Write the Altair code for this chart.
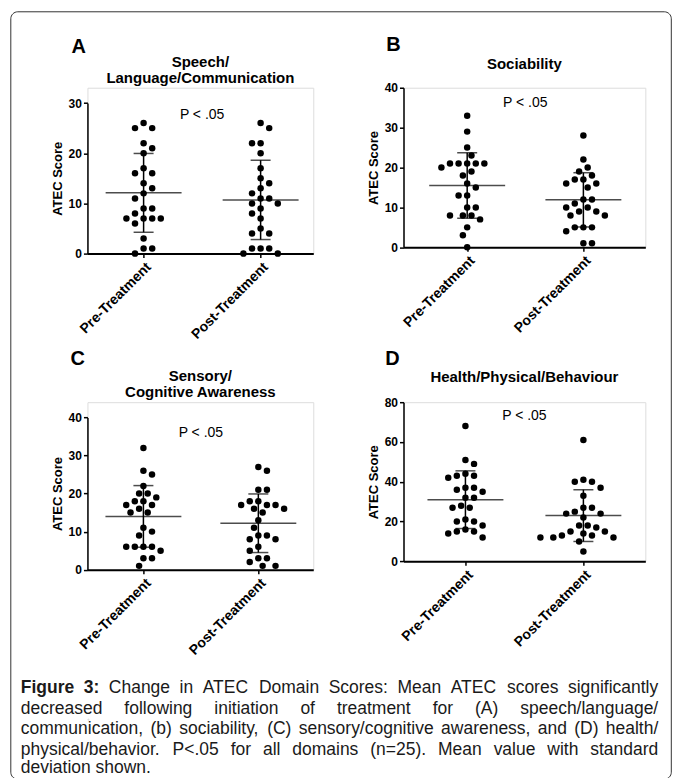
import math
import altair as alt
import pandas as pd

# ---------------- data ----------------
GROUPS = ["Pre-Treatment", "Post-Treatment"]
LETTERS = ["A", "B", "C", "D"]
TITLES = [["Speech/", "Language/Communication"], ["Sociability"],
          ["Sensory/", "Cognitive Awareness"], ["Health/Physical/Behaviour"]]

A_PRE = [26, 25, 25, 22, 21, 20, 17, 16, 16, 14, 13, 12, 11, 9, 9, 8, 7, 7, 7, 7, 6, 3, 1, 1, 0]
A_POST = [26, 25, 22, 22, 20, 17, 15, 14, 13, 12, 11, 11, 10, 10, 9, 8, 7, 5, 4, 4, 1, 1, 1, 0, 0]
B_PRE = [33, 29, 25, 23, 21, 21, 21, 21, 21, 20, 19, 18, 16, 15, 13, 13, 10, 10, 8, 8, 8, 7, 5, 3, 0]
B_POST = [28, 22, 20, 19, 18, 17, 17, 16, 16, 15, 12, 12, 11, 10, 10, 9, 9, 8, 8, 5, 5, 5, 4, 1, 1]
C_PRE = [32, 26, 25, 22, 20, 20, 19, 18, 18, 17, 17, 16, 15, 15, 11, 10, 9, 6, 6, 6, 6, 5, 3, 3, 1]
C_POST = [27, 26, 21, 21, 18, 18, 17, 17, 17, 16, 16, 15, 13, 11, 9, 9, 8, 8, 6, 5, 3, 3, 2, 1, 1]
D_PRE = [68, 51, 49, 44, 43, 43, 42, 37, 37, 36, 35, 32, 32, 28, 27, 27, 21, 20, 20, 18, 16, 15, 15, 14, 12]
D_POST = [61, 41, 40, 40, 37, 33, 27, 27, 25, 24, 24, 22, 18, 18, 17, 15, 15, 14, 13, 13, 12, 12, 12, 10, 5]

VALUES = [(A_PRE, A_POST), (B_PRE, B_POST), (C_PRE, C_POST), (D_PRE, D_POST)]
MEANS = [[12.1, 10.7], [15.5, 11.9], [14.0, 12.2], [31.0, 23.0]]
SDS = [[7.85, 7.9], [8.2, 6.8], [8.1, 7.7], [14.5, 13.0]]
Y_MAX = [30, 40, 40, 80]
Y_TICKS = [[0, 10, 20, 30], [0, 10, 20, 30, 40], [0, 10, 20, 30, 40], [0, 20, 40, 60, 80]]
P_LABEL = "P < .05"
P_Y = [27.7, 36.1, 35.9, 73.0]
AXIS_TITLE = "ATEC Score"

CAPTION_BOLD = "Figure 3:"
CAPTION_LINES = [
    "Change in ATEC Domain Scores: Mean ATEC scores significantly",
    "decreased following initiation of treatment for (A) speech/language/",
    "communication, (b) sociability, (C) sensory/cognitive awareness, and (D) health/",
    "physical/behavior. P<.05 for all domains (n=25). Mean value with standard",
    "deviation shown.",
]

# ---------------- layout (pixels, page coordinates) ----------------
FONT = "Liberation Sans"
VIEW_W = [226, 242, 226, 242]
VIEW_H = [166, 159.7, 167.6, 159.3]
RANGE_TOP = [15.3, 0, 15.3, 0]
X_DOMAIN = [[-0.48, 1.45], [-0.548, 1.533], [-0.487, 1.478], [-0.525, 1.525]]
TITLE_OFFSET = [1.5, 10, 2, 11.5]
LETTER_XY = [(78, 45), (393, 43), (77, 357), (392, 357)]
COL_SPACING = 90.3
ROW_SPACING = 148.7
A_ORIGIN = (86.7, 86.0)          # page position of panel A's view
FRAME = (10, 10, 671, 778)       # page position of the outer frame
CAP_LEFT, CAP_RIGHT = 20, 658
CAP_Y = [687, 707.5, 728, 748.5, 767]
CAP_SIZE = 17.5
DOT_GAP = 8.6

# Arial / Liberation Sans advance widths (1/1000 em) used to justify the caption
_W = {" ": 278, "(": 333, ")": 333, ",": 278, "-": 333, ".": 278, "/": 278, ":": 278,
      "<": 584, "=": 584, "A": 667, "B": 667, "C": 722, "D": 722, "E": 667, "F": 611,
      "M": 833, "P": 667, "S": 667, "T": 611, "a": 556, "b": 556, "c": 500, "d": 556,
      "e": 556, "f": 278, "g": 556, "h": 556, "i": 222, "j": 222, "k": 500, "l": 222,
      "m": 833, "n": 556, "o": 556, "p": 556, "q": 556, "r": 333, "s": 500, "t": 278,
      "u": 556, "v": 500, "w": 722, "x": 500, "y": 500, "z": 500}
_WB = {"F": 611, "i": 278, "g": 611, "u": 611, "r": 389, "e": 556, "3": 556, ":": 333}


def text_width(s, bold=False):
    table = _WB if bold else _W
    return sum(table.get(ch, 556) for ch in s) * CAP_SIZE / 1000.0


def justify(words):
    """words: list of (text, bold). Returns left x of each word, spanning CAP_LEFT..CAP_RIGHT."""
    widths = [text_width(t, b) for t, b in words]
    gap = (CAP_RIGHT - CAP_LEFT - sum(widths)) / (len(words) - 1)
    xs, x = [], CAP_LEFT
    for wd in widths:
        xs.append(x)
        x += wd + gap
    return xs


def swarm(vals, ppu, d=DOT_GAP, h=DOT_GAP / 2):
    """Deterministic beeswarm: horizontal pixel offsets avoiding overlap, balanced per band."""
    order = sorted(range(len(vals)), key=lambda k: -vals[k])
    placed, offs = [], [0.0] * len(vals)

    def ok(x, y):
        return all((x - px) ** 2 + (y - py) ** 2 >= d * d for px, py in placed)

    for k in order:
        y = vals[k] * ppu
        x = 0.0
        for m in range(0, 16):
            opts = [0.0] if m == 0 else [m * h, -m * h]
            valid = [c for c in opts if ok(c, y)]
            if valid:
                if len(valid) == 2:
                    near = sum(px for px, py in placed if abs(py - y) < 2 * d)
                    x = -m * h if near > 0 else m * h
                else:
                    x = valid[0]
                break
        placed.append((x, y))
        offs[k] = x
    return offs


def panel(i):
    w, h, top = VIEW_W[i], VIEW_H[i], RANGE_TOP[i]
    ppu = (h - top) / Y_MAX[i]
    step = w / (X_DOMAIN[i][1] - X_DOMAIN[i][0])
    rows = []
    for g, vals in enumerate(VALUES[i]):
        for v, off in zip(vals, swarm(vals, ppu)):
            rows.append({"x": g + off / step, "y": v})
    pts = pd.DataFrame(rows)
    stats = pd.DataFrame({"x": [0, 1], "mean": MEANS[i], "sd": SDS[i]})
    stats["lo"] = stats["mean"] - stats["sd"]
    stats["hi"] = stats["mean"] + stats["sd"]

    xs = alt.Scale(domain=X_DOMAIN[i], nice=False, zero=False)
    ys = alt.Scale(domain=[0, Y_MAX[i]], range=[h, top], nice=False, zero=True)
    xax = alt.Axis(values=[0, 1],
                   labelExpr=f"datum.value == 0 ? '{GROUPS[0]}' : '{GROUPS[1]}'",
                   labelAngle=-45, title=None, grid=False, labelFont=FONT,
                   labelFontWeight="bold", labelFontSize=14, labelColor="black",
                   domainColor="black", domainWidth=2, tickColor="black",
                   tickWidth=1.5, tickSize=4, labelPadding=2)
    yax = alt.Axis(values=Y_TICKS[i], format="d", title=AXIS_TITLE, grid=False,
                   labelFont=FONT, labelFontWeight="bold", labelFontSize=12,
                   labelColor="black", titleFont=FONT, titleFontWeight="bold",
                   titleFontSize=13, titleColor="black", titlePadding=4,
                   domainColor="black", domainWidth=1.5, tickColor="black",
                   tickWidth=1.5, tickSize=4, labelPadding=2)

    def X(f):
        return alt.X(f"{f}:Q", scale=xs, axis=xax)

    def Y(f):
        return alt.Y(f"{f}:Q", scale=ys, axis=yax)

    dots = alt.Chart(pts).mark_circle(size=42, color="black", opacity=1).encode(x=X("x"), y=Y("y"))
    rule = alt.Chart(stats).mark_rule(color="black", strokeWidth=1.5).encode(
        x=X("x"), y=Y("lo"), y2="hi:Q")
    mean = alt.Chart(stats).mark_tick(orient="horizontal", size=76, thickness=1.5,
                                      color="black").encode(x=X("x"), y=Y("mean"))
    cap_lo = alt.Chart(stats).mark_tick(orient="horizontal", size=20, thickness=1.5,
                                        color="black").encode(x=X("x"), y=Y("lo"))
    cap_hi = alt.Chart(stats).mark_tick(orient="horizontal", size=20, thickness=1.5,
                                        color="black").encode(x=X("x"), y=Y("hi"))
    ptxt = alt.Chart(pd.DataFrame({"x": [0.5], "y": [P_Y[i]], "t": [P_LABEL]})).mark_text(
        font=FONT, fontSize=14, color="black", baseline="middle").encode(
        x=X("x"), y=Y("y"), text="t:N")
    return alt.layer(dots, rule, mean, cap_lo, cap_hi, ptxt).properties(
        width=w, height=h,
        title=alt.TitleParams(text=TITLES[i], font=FONT, fontSize=15, fontWeight="bold",
                              color="black", anchor="middle", frame="group",
                              offset=TITLE_OFFSET[i], lineHeight=16))


panels = [panel(i) for i in range(4)]

# The caption view sits under panel C (flush layout, rows aligned by row height);
# the panel letters and the outer frame are drawn from it so they do not move the layout.
row0 = math.ceil(max(VIEW_H[0], VIEW_H[1]))
row1 = math.ceil(max(VIEW_H[2], VIEW_H[3]))
cap_ox = A_ORIGIN[0]
cap_oy = A_ORIGIN[1] + row0 + ROW_SPACING + row1 + ROW_SPACING
cap_layers = [alt.Chart(pd.DataFrame({"f": [0]})).mark_rect(
    fill="transparent", stroke="#333333", strokeWidth=1, cornerRadius=7).encode(
    x=alt.value(FRAME[0] - cap_ox), x2=alt.value(FRAME[2] - cap_ox),
    y=alt.value(FRAME[1] - cap_oy), y2=alt.value(FRAME[3] - cap_oy))]
for letter, (lx, ly) in zip(LETTERS, LETTER_XY):
    cap_layers.append(alt.Chart(pd.DataFrame({"t": [letter]})).mark_text(
        font=FONT, fontSize=20, fontWeight="bold", color="black",
        align="center", baseline="middle").encode(
        text="t:N", x=alt.value(lx - cap_ox), y=alt.value(ly - cap_oy)))

# caption: justified lines (all but the last), words laid out from font metrics
for k, line in enumerate(CAPTION_LINES):
    words = [(wd, False) for wd in line.split(" ")]
    if k == 0:
        words = [(wd, True) for wd in CAPTION_BOLD.split(" ")] + words
    last = k == len(CAPTION_LINES) - 1
    if last:
        xs_ = [CAP_LEFT]
        words = [(line, False)]
    else:
        xs_ = justify(words)
    df = pd.DataFrame({"t": [wd for wd, _ in words], "b": [b for _, b in words],
                       "px": [x - cap_ox for x in xs_]})
    for bold in (False, True):
        sub = df[df["b"] == bold]
        if len(sub) == 0:
            continue
        cap_layers.append(alt.Chart(sub).mark_text(
            font=FONT, fontSize=CAP_SIZE, fontWeight="bold" if bold else "normal",
            color="#1a1a1a", align="left", baseline="middle").encode(
            text="t:N", x=alt.X("px:Q", scale=None, axis=None),
            y=alt.value(CAP_Y[k] - cap_oy)))
caption = alt.layer(*cap_layers).properties(width=1, height=1)

chart = alt.concat(*panels, caption, columns=2, bounds="flush", align="none",
                   spacing={"row": ROW_SPACING, "column": COL_SPACING}).properties(
    padding={"left": 1.5, "top": 1.5, "right": 0, "bottom": 0},
    background="white").configure_view(stroke=None).configure(font=FONT)

chart.save("out.html", embed_options={"renderer": "svg", "actions": False})
